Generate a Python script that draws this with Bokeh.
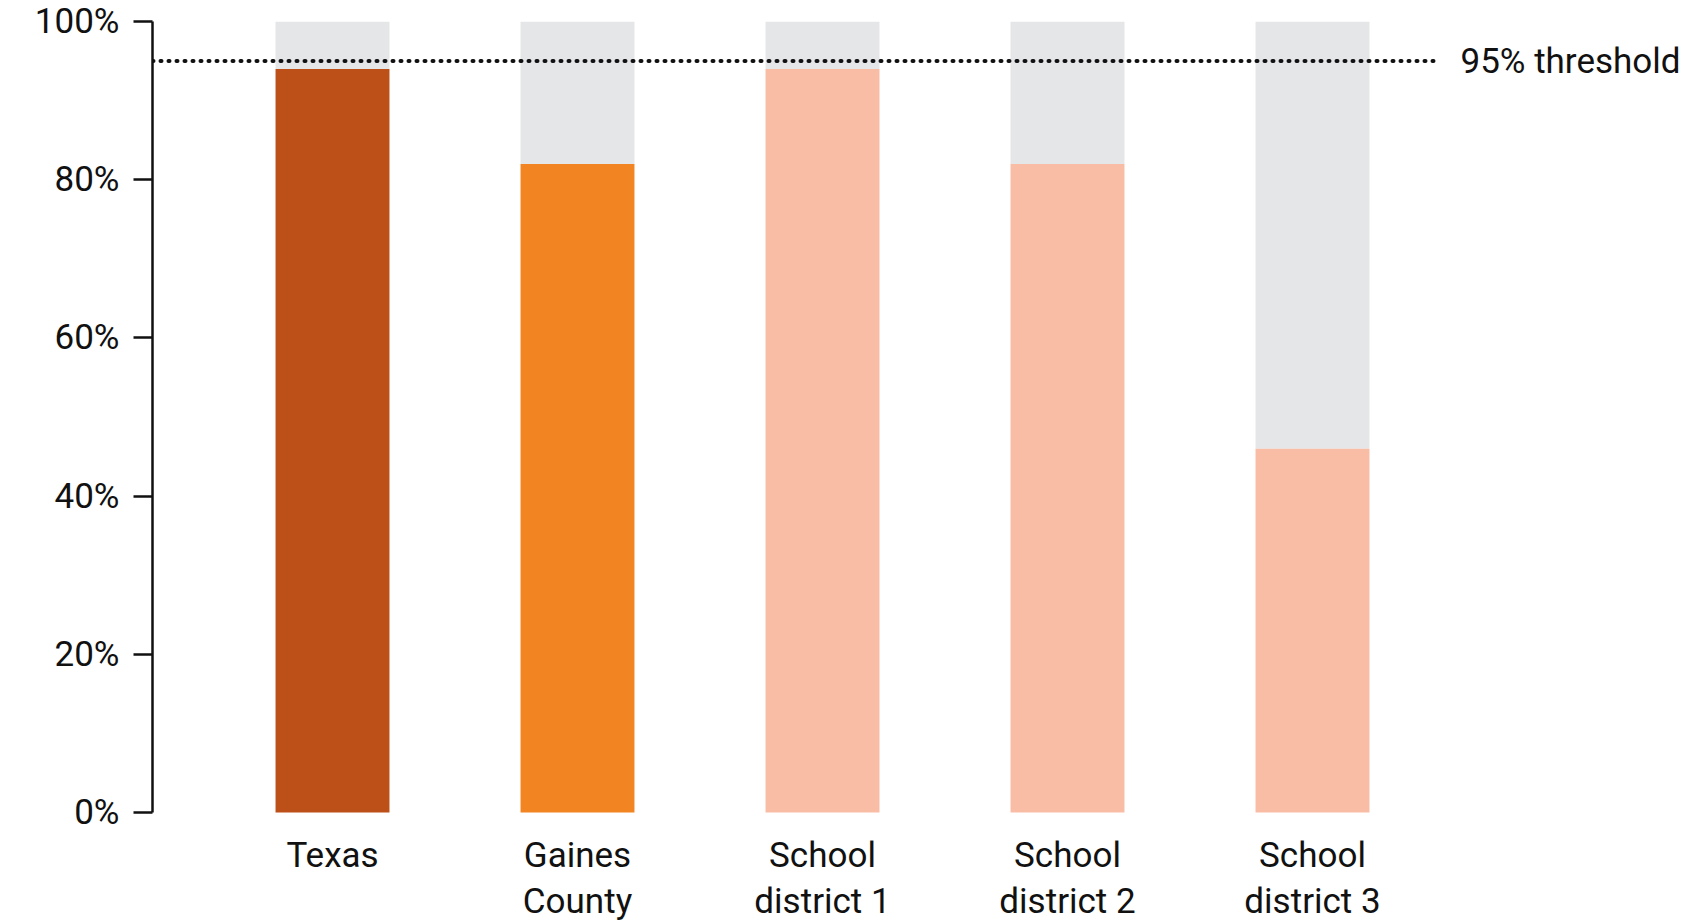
from bokeh.plotting import figure
from bokeh.models import Range1d, FixedTicker, ColumnDataSource
from bokeh.core.properties import value
from bokeh.embed import file_html
from bokeh.resources import INLINE

# Share of students meeting the requirement, by area (percent)
categories = ["Texas", "Gaines\nCounty", "School\ndistrict 1", "School\ndistrict 2", "School\ndistrict 3"]
rates = [94, 82, 94, 82, 46]
colors = ["#BD4F19", "#F28522", "#F9BDA6", "#F9BDA6", "#F9BDA6"]
threshold = 95
threshold_label = "95% threshold"
y_ticks = [0, 20, 40, 60, 80, 100]

FONT = "Roboto"
INK = "#111111"

xs = list(range(len(categories)))
src = ColumnDataSource(dict(x=xs, rate=rates, color=colors, label=categories,
                            full=[100] * len(xs)))

# pixel geometry of the frame: 245 px per category, 7.91 px per percentage point
px_per_cat = 245.0
px_per_pct = 7.91
x_start = -180 / px_per_cat
x_end = 1351 / px_per_cat
y_start = -112 / px_per_pct

p = figure(width=1683, height=924, output_backend="svg", toolbar_location=None,
           x_range=Range1d(x_start, x_end), y_range=Range1d(y_start, 100),
           min_border_left=152, min_border_right=0, min_border_top=21,
           min_border_bottom=0, outline_line_color=None, background_fill_color="white")

p.xaxis.visible = False
p.grid.visible = False

yax = p.yaxis[0]
yax.bounds = (0, 100)
yax.ticker = FixedTicker(ticks=y_ticks)
yax.major_label_overrides = {t: f"{t}%" for t in y_ticks}
yax.minor_tick_line_color = None
yax.major_tick_in = 0
yax.major_tick_out = 19
yax.major_tick_line_width = 2.5
yax.major_tick_line_color = INK
yax.axis_line_width = 2.5
yax.axis_line_color = INK
yax.major_label_standoff = 14
yax.major_label_text_font = FONT
yax.major_label_text_font_size = "35px"
yax.major_label_text_color = INK

bar_w = 0.465
# remaining share up to 100%
p.vbar(x="x", bottom="rate", top="full", width=bar_w, source=src,
       fill_color="#E5E6E8", line_color=None)
# achieved share
p.vbar(x="x", bottom=0, top="rate", width=bar_w, source=src,
       fill_color="color", line_color=None)

# threshold line and its label
line_end = len(categories) - 1 + 0.514
p.segment(x0=x_start, x1=line_end, y0=threshold, y1=threshold,
          line_color=INK, line_width=4, line_dash="1 7", line_cap="round")
p.text(x=[line_end + 0.09], y=[threshold], text=[threshold_label],
       text_font=value(FONT), text_font_size="35px", text_color=INK,
       text_align="left", text_baseline="middle")

# category labels under the bars
p.text(x="x", y=-2.9, text="label", source=src,
       text_font=value(FONT), text_font_size="35px", text_color=INK,
       text_align="center", text_baseline="top", text_line_height=1.1)

open("out.html", "w").write(file_html(p, INLINE))
